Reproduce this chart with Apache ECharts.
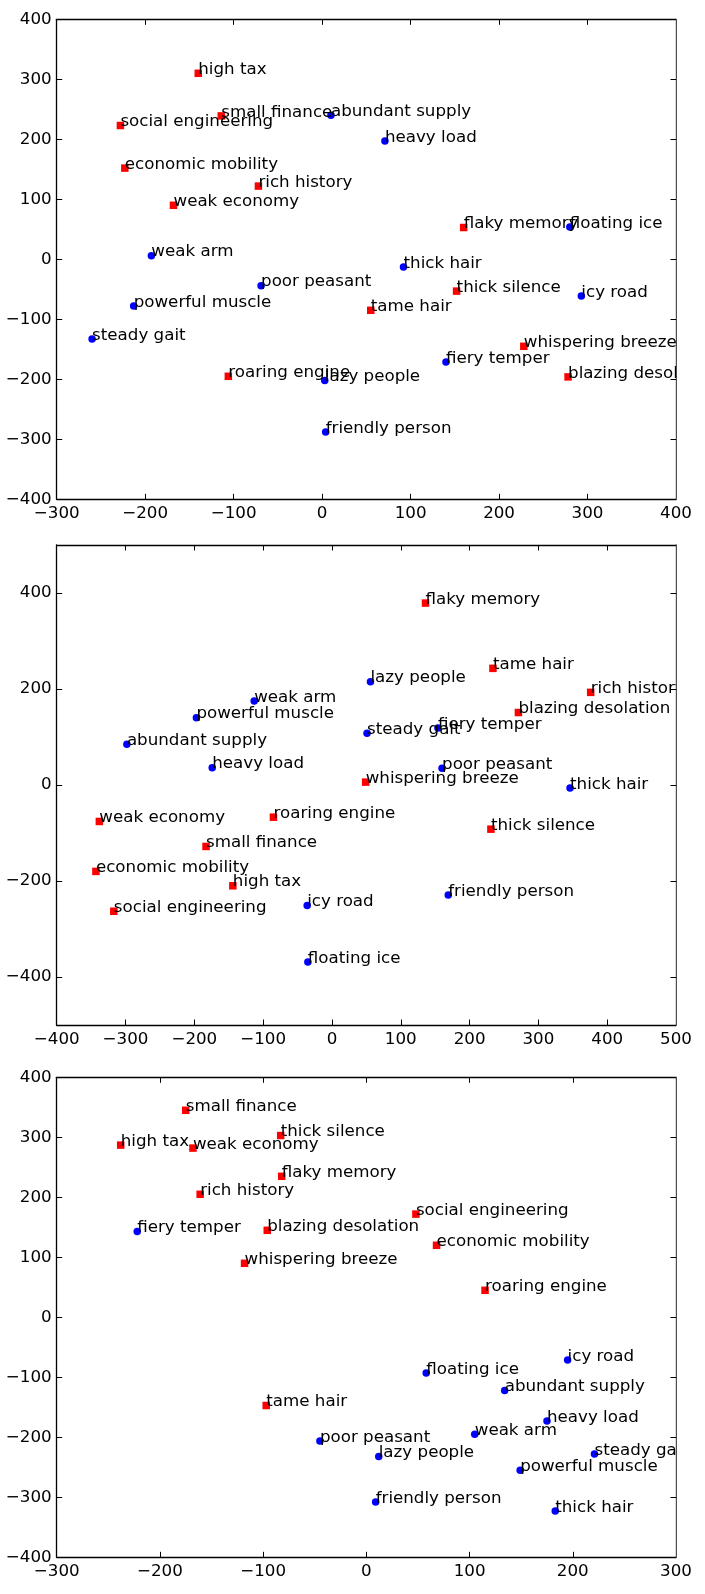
<!DOCTYPE html>
<html>
<head>
<meta charset="utf-8">
<script src="https://cdn.jsdelivr.net/npm/echarts@6/dist/echarts.min.js"></script>
<style>
html,body{margin:0;padding:0;background:#fff;}
#chart{width:705px;height:1594px;}
</style>
</head>
<body>
<div id="chart"></div>
<script>
// ---- Data: [x, y, word] ----
// Panel 1
const p1Red = [
  [-140, 310, 'high tax'],
  [-114, 239, 'small finance'],
  [-228, 223, 'social engineering'],
  [-223, 152, 'economic mobility'],
  [-72, 122, 'rich history'],
  [-168, 90, 'weak economy'],
  [160, 53, 'flaky memory'],
  [-106, -195, 'roaring engine'],
  [152, -53, 'thick silence'],
  [55, -85, 'tame hair'],
  [228, -145, 'whispering breeze'],
  [278, -196, 'blazing desolation']
];
const p1Blue = [
  [10, 240, 'abundant supply'],
  [71, 197, 'heavy load'],
  [280, 54, 'floating ice'],
  [-193, 6, 'weak arm'],
  [-69, -44, 'poor peasant'],
  [-213, -78, 'powerful muscle'],
  [-260, -133, 'steady gait'],
  [3, -202, 'lazy people'],
  [4, -288, 'friendly person'],
  [92, -13, 'thick hair'],
  [293, -61, 'icy road'],
  [140, -171, 'fiery temper']
];
// Panel 2
const p2Red = [
  [-144, -210, 'high tax'],
  [-183, -128, 'small finance'],
  [-317, -263, 'social engineering'],
  [-343, -180, 'economic mobility'],
  [376, 193, 'rich history'],
  [-338, -76, 'weak economy'],
  [136, 379, 'flaky memory'],
  [-85, -67, 'roaring engine'],
  [231, -92, 'thick silence'],
  [234, 243, 'tame hair'],
  [49, 6, 'whispering breeze'],
  [271, 151, 'blazing desolation']
];
const p2Blue = [
  [-298, 85, 'abundant supply'],
  [-174, 36, 'heavy load'],
  [-35, -369, 'floating ice'],
  [-113, 175, 'weak arm'],
  [160, 35, 'poor peasant'],
  [-197, 140, 'powerful muscle'],
  [51, 108, 'steady gait'],
  [56, 215, 'lazy people'],
  [169, -229, 'friendly person'],
  [346, -6, 'thick hair'],
  [-36, -251, 'icy road'],
  [154, 119, 'fiery temper']
];
// Panel 3
const p3Red = [
  [-238, 287, 'high tax'],
  [-175, 345, 'small finance'],
  [48, 172, 'social engineering'],
  [68, 120, 'economic mobility'],
  [-161, 205, 'rich history'],
  [-168, 282, 'weak economy'],
  [-82, 235, 'flaky memory'],
  [115, 45, 'roaring engine'],
  [-83, 303, 'thick silence'],
  [-97, -147, 'tame hair'],
  [-118, 90, 'whispering breeze'],
  [-96, 145, 'blazing desolation']
];
const p3Blue = [
  [134, -122, 'abundant supply'],
  [175, -173, 'heavy load'],
  [58, -93, 'floating ice'],
  [105, -195, 'weak arm'],
  [-45, -206, 'poor peasant'],
  [149, -255, 'powerful muscle'],
  [221, -228, 'steady gait'],
  [12, -232, 'lazy people'],
  [9, -308, 'friendly person'],
  [183, -323, 'thick hair'],
  [195, -71, 'icy road'],
  [-222, 143, 'fiery temper']
];
// Axis ranges and tick values
const p1XRange = [-300, 400], p1YRange = [-400, 400];
const p2XRange = [-400, 500], p2YRange = [-500, 500];
const p3XRange = [-300, 300], p3YRange = [-400, 400];
const p2YTicks = [-400, -200, 0, 200, 400];

// ---- Layout / style ----
const FONT = 'DejaVu Sans';
const FS = 16.7;
const LEFT = 56.7, WIDTH = 619.3, HEIGHT = 480;
const TOPS = [19.3, 545, 1077.3];
const SYM = 7.5;

const fmt = v => String(v).replace('-', '\u2212');
const lineStyle = {color: '#000', width: 1.3};
const tickStyle = {show: true, inside: true, length: 5.5, lineStyle: {color: '#000', width: 1}};

const panels = [
  {red: p1Red, blue: p1Blue, xr: p1XRange, yr: p1YRange, yTicks: null},
  {red: p2Red, blue: p2Blue, xr: p2XRange, yr: p2YRange, yTicks: p2YTicks},
  {red: p3Red, blue: p3Blue, xr: p3XRange, yr: p3YRange, yTicks: null}
];

const grid = [], xAxis = [], yAxis = [], series = [], graphic = [];
panels.forEach((p, i) => {
  grid.push({left: LEFT, top: TOPS[i], width: WIDTH, height: HEIGHT, containLabel: false});
  const xBase = {
    gridIndex: i, type: 'value', min: p.xr[0], max: p.xr[1], interval: 100,
    axisLine: {show: true, onZero: false, lineStyle: lineStyle},
    axisTick: tickStyle, splitLine: {show: false}
  };
  xAxis.push(Object.assign({}, xBase, {
    position: 'bottom',
    axisLabel: {show: true, margin: 6, fontSize: FS, color: '#000', fontFamily: FONT,
      formatter: fmt, showMinLabel: true, showMaxLabel: true}
  }));
  xAxis.push(Object.assign({}, xBase, {position: 'top', axisLabel: {show: false}}));
  const yBase = {
    gridIndex: i, type: 'value', min: p.yr[0], max: p.yr[1], interval: 100,
    axisLine: {show: true, onZero: false, lineStyle: lineStyle},
    splitLine: {show: false}
  };
  const yTick = p.yTicks ? Object.assign({}, tickStyle, {customValues: p.yTicks}) : tickStyle;
  const yLab = {show: true, margin: 5, fontSize: FS, color: '#000', fontFamily: FONT,
    formatter: fmt, showMinLabel: true, showMaxLabel: true};
  if (p.yTicks) yLab.customValues = p.yTicks;
  yAxis.push(Object.assign({}, yBase, {position: 'left', axisTick: yTick, axisLabel: yLab}));
  yAxis.push(Object.assign({}, yBase, {position: 'right', axisTick: yTick, axisLabel: {show: false}}));

  const mk = (data, color, symbol) => ({
    type: 'scatter', xAxisIndex: 2 * i, yAxisIndex: 2 * i,
    data: data, symbol: symbol, symbolSize: SYM,
    itemStyle: {color: color, opacity: 1},
    emphasis: {disabled: true},
    clip: true,
    label: {
      show: true, formatter: d => d.data[2],
      position: [SYM / 2, SYM / 2 + 4.8], align: 'left', verticalAlign: 'bottom',
      fontSize: FS, fontFamily: FONT, color: '#000'
    },
    labelLayout: {hideOverlap: false}
  });
  series.push(mk(p.red, '#ff0000', 'rect'));
  series.push(mk(p.blue, '#0000ff', 'circle'));

  // mask labels spilling past the right spine (like matplotlib clipping)
  graphic.push({
    type: 'rect', z: 100,
    shape: {x: LEFT + WIDTH + 0.7, y: TOPS[i] - 3, width: 40, height: HEIGHT + 6},
    style: {fill: '#fff'}
  });
});

const chart = echarts.init(document.getElementById('chart'), null, {renderer: 'canvas'});
chart.setOption({
  animation: false,
  backgroundColor: '#fff',
  textStyle: {fontFamily: FONT},
  grid, xAxis, yAxis, series, graphic
});
</script>
</body>
</html>
